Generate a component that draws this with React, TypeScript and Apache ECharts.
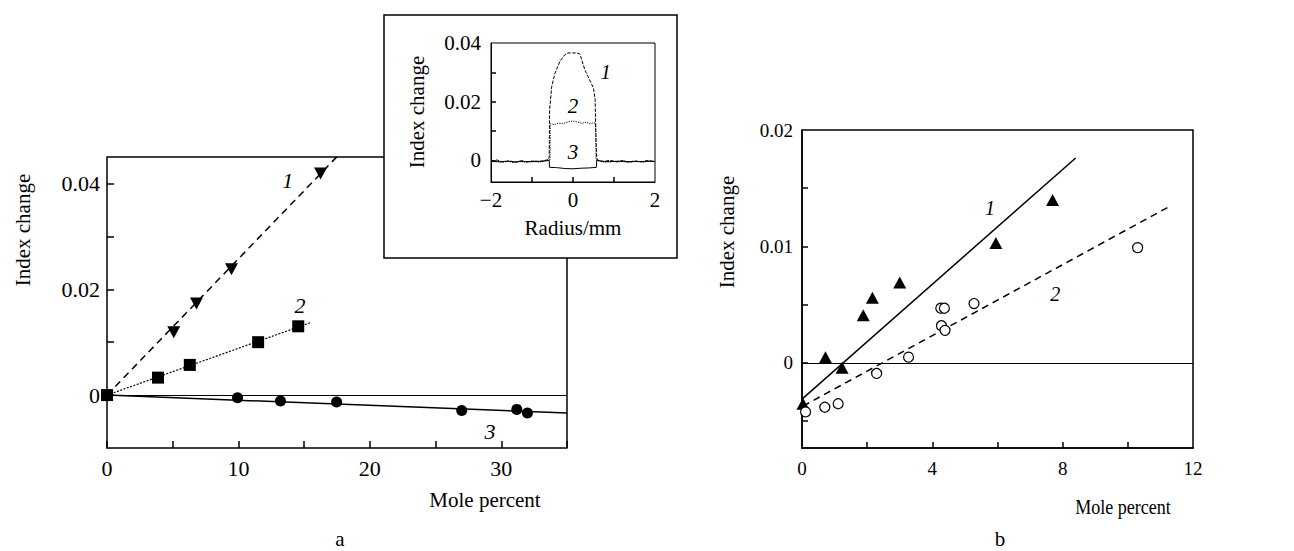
import React, { useEffect, useRef } from "react";
import * as echarts from "echarts";

const W = 1294;
const H = 551;
const SERIF = "Liberation Serif";

// ---------- Panel a (main) ----------
const A_X_TICKS = [0, 5, 10, 15, 20, 25, 30, 35];
const A_X_LABELS = [0, 10, 20, 30];
const A_Y_TICKS = [0, 0.01, 0.02, 0.03, 0.04];
const A_Y_LABELS = [0, 0.02, 0.04];

const A_S1_POINTS = [[5.08, 0.0119], [6.81, 0.0173], [9.47, 0.0238], [16.25, 0.0419]];
const A_S1_LINE = [[0, 0], [17.59, 0.0453]];
const A_S2_POINTS = [[0, 0], [3.88, 0.0033], [6.3, 0.0057], [11.5, 0.01], [14.55, 0.013]];
const A_S2_LINE = [[0, 0], [15.49, 0.0137]];
const A_S3_POINTS = [[9.93, -0.0005], [13.2, -0.0011], [17.47, -0.0013], [26.99, -0.0029], [31.18, -0.0027], [31.99, -0.0034]];
const A_S3_LINE = [[0, 0], [35, -0.0034]];
const A_CURVE_LABELS = [["1", 13.76, 0.0406], ["2", 14.68, 0.0169], ["3", 29.15, -0.0068]];

// ---------- Inset ----------
const IN_X_TICKS = [-1, 0, 1];
const IN_X_LABELS = [-2, 0, 2];
const IN_Y_TICKS = [0, 0.01, 0.02, 0.03];
const IN_Y_LABELS = [0, 0.02, 0.04];

const IN_CURVE1 = [
  [-2, -0.0003], [-1.85, 0.0001], [-1.7, -0.0006], [-1.55, -0.0002], [-1.4, -0.0007], [-1.25, -0.0001],
  [-1.1, -0.0006], [-0.95, -0.0002], [-0.8, -0.0005], [-0.68, 0.0], [-0.6, 0.0002],
  [-0.58, 0.0012], [-0.575, 0.01], [-0.57, 0.0172], [-0.52, 0.0251], [-0.44, 0.0297], [-0.32, 0.0337],
  [-0.2, 0.036], [-0.12, 0.0366], [0.1, 0.0366], [0.17, 0.0362], [0.29, 0.0308], [0.37, 0.0285],
  [0.5, 0.0246], [0.54, 0.0206], [0.555, 0.0093], [0.58, 0.0008], [0.62, -0.0001], [0.75, -0.0004],
  [0.9, 0.0], [1.05, -0.0005], [1.2, -0.0001], [1.35, -0.0006], [1.5, -0.0002], [1.65, -0.0005],
  [1.8, -0.0001], [2, -0.0004],
];
const IN_CURVE2 = [
  [-2, -0.0006], [-1.9, -0.0002], [-1.75, -0.0007], [-1.6, -0.0003], [-1.45, -0.0008], [-1.3, -0.0003],
  [-1.15, -0.0007], [-1.0, -0.0002], [-0.85, -0.0006], [-0.7, -0.0002], [-0.6, 0.0001],
  [-0.56, 0.0002], [-0.555, 0.0124], [-0.45, 0.0122], [-0.35, 0.0127], [-0.25, 0.0125], [-0.12, 0.0131],
  [0, 0.0134], [0.1, 0.0131], [0.22, 0.0126], [0.32, 0.013], [0.42, 0.0124], [0.5, 0.0128],
  [0.555, 0.0126], [0.56, 0.0002], [0.65, -0.0003], [0.8, -0.0007], [0.95, -0.0002], [1.1, -0.0006],
  [1.25, -0.0002], [1.4, -0.0007], [1.55, -0.0003], [1.7, -0.0006], [1.85, -0.0002], [2, -0.0005],
];
const IN_CURVE3 = [
  [-2, -0.0004], [-1.8, -0.0005], [-1.6, -0.0003], [-1.4, -0.0005], [-1.2, -0.0004], [-1.0, -0.0005],
  [-0.8, -0.0003], [-0.65, -0.0002], [-0.58, 0.0],
  [-0.575, -0.0024], [-0.4, -0.0025], [-0.2, -0.0028], [0, -0.0029], [0.2, -0.0027], [0.4, -0.0026],
  [0.57, -0.0024], [0.58, 0.0], [0.7, -0.0003], [0.9, -0.0005], [1.1, -0.0003], [1.3, -0.0005],
  [1.5, -0.0004], [1.7, -0.0005], [1.9, -0.0003], [2, -0.0004],
];
const IN_CURVE_LABELS = [["1", 0.8, 0.0301], ["2", 0.0, 0.0185], ["3", 0.0, 0.0028]];

// ---------- Panel b ----------
const B_X_TICKS = [2, 4, 6, 8, 10];
const B_X_LABELS = [0, 4, 8, 12];
const B_Y_TICKS = [-0.005, 0, 0.005, 0.01, 0.015];
const B_Y_LABELS = [0, 0.01, 0.02];

const B_TRIANGLES = [[0.03, -0.0035], [0.72, 0.0005], [1.23, -0.0004], [1.88, 0.0041], [2.16, 0.0056], [3.0, 0.0069], [5.95, 0.0103], [7.69, 0.014]];
const B_LINE1 = [[0, -0.0031], [8.4, 0.0176]];
const B_CIRCLES = [[0.11, -0.0042], [0.7, -0.0038], [1.11, -0.0035], [2.29, -0.0009], [3.27, 0.0005], [4.26, 0.0047], [4.37, 0.0047], [4.28, 0.0032], [4.39, 0.0028], [5.28, 0.0051], [10.3, 0.0099]];
const B_LINE2 = [[0.03, -0.0037], [11.32, 0.0135]];
const B_CURVE_LABELS = [["1", 5.77, 0.0133], ["2", 7.77, 0.0059]];

// ---------- layout ----------
const GA = { left: 107, top: 157, width: 460, height: 291 };
const GI = { left: 491, top: 43, width: 164, height: 139 };
const GB = { left: 802, top: 130, width: 391, height: 318 };
const INSET_BOX = { x: 384, y: 15, width: 293, height: 243 };

const fmtNum = (v: number) => {
  if (Math.abs(v) < 1e-9) return "0";
  if (Number.isInteger(Math.round(v * 1e6) / 1e6)) return v < 0 ? "\u2212" + Math.abs(v) : String(v);
  const s = Math.abs(v).toFixed(2);
  return v < 0 ? "\u2212" + s : s;
};

function axis(o: any) {
  return {
    type: "value",
    gridIndex: o.grid,
    min: o.min,
    max: o.max,
    axisLine: { show: true, onZero: false, lineStyle: { color: "#000", width: o.lw ?? 1.5 } },
    axisTick: { show: true, inside: true, length: o.tl ?? 7, customValues: o.ticks, lineStyle: { color: "#000", width: 1.5 } },
    axisLabel: {
      show: true,
      customValues: o.labels,
      formatter: (v: number) => fmtNum(v),
      fontFamily: SERIF,
      fontSize: o.fs ?? 21,
      color: "#000",
      margin: o.margin ?? 8,
    },
    splitLine: { show: false },
  };
}

function fitLine(data: number[][], xi: number, yi: number, type: any, width = 1.5) {
  return {
    type: "line",
    xAxisIndex: xi,
    yAxisIndex: yi,
    data,
    showSymbol: false,
    symbol: "none",
    silent: true,
    lineStyle: { color: "#000", width, type, opacity: 1 },
    z: 3,
  };
}

function points(data: number[][], xi: number, yi: number, symbol: string, size: any, filled = true, rotate = 0) {
  return {
    type: "scatter",
    xAxisIndex: xi,
    yAxisIndex: yi,
    data,
    symbol,
    symbolSize: size,
    symbolRotate: rotate,
    silent: true,
    itemStyle: filled
      ? { color: "#000", opacity: 1 }
      : { color: "#fff", borderColor: "#000", borderWidth: 1.2, opacity: 1 },
    z: 4,
  };
}

function labels(list: any[], xi: number, yi: number, fs = 21) {
  return {
    type: "scatter",
    xAxisIndex: xi,
    yAxisIndex: yi,
    data: list.map((l) => [l[1], l[2], l[0]]),
    symbolSize: 0,
    silent: true,
    itemStyle: { opacity: 1, color: "#000" },
    label: {
      show: true,
      position: "inside",
      formatter: (p: any) => p.value[2],
      fontFamily: SERIF,
      fontStyle: "italic",
      fontSize: fs,
      color: "#000",
      opacity: 1,
      textBorderWidth: 0,
    },
    z: 5,
  };
}

function text(t: string, x: number, y: number, fs: number, rot = 0, scaleX = 1) {
  return {
    type: "text",
    x,
    y,
    rotation: rot,
    scaleX,
    silent: true,
    style: { text: t, fontFamily: SERIF, fontSize: fs, fill: "#000", align: "center", verticalAlign: "middle" },
  };
}

const option: any = {
  animation: false,
  backgroundColor: "#fff",
  textStyle: { fontFamily: SERIF },
  grid: [
    { ...GA, show: false },
    { ...GI, show: true, borderColor: "#000", borderWidth: 1, backgroundColor: "transparent" },
    { ...GB, show: true, borderColor: "#000", borderWidth: 1.5, backgroundColor: "transparent" },
  ],
  xAxis: [
    axis({ grid: 0, min: 0, max: 35, ticks: A_X_TICKS, labels: A_X_LABELS, fs: 22, margin: 9 }),
    axis({ grid: 1, min: -2, max: 2, ticks: IN_X_TICKS, labels: IN_X_LABELS, fs: 21, tl: 5, lw: 1, margin: 7 }),
    axis({ grid: 2, min: 0, max: 12, ticks: B_X_TICKS, labels: B_X_LABELS, fs: 19, tl: 6, margin: 11 }),
  ],
  yAxis: [
    axis({ grid: 0, min: -0.01, max: 0.045, ticks: A_Y_TICKS, labels: A_Y_LABELS, fs: 22, margin: 7 }),
    axis({ grid: 1, min: -0.0074, max: 0.04, ticks: IN_Y_TICKS, labels: IN_Y_LABELS, fs: 21, tl: 5, lw: 1, margin: 10 }),
    axis({ grid: 2, min: -0.0073, max: 0.02, ticks: B_Y_TICKS, labels: B_Y_LABELS, fs: 19, tl: 6, margin: 9 }),
  ],
  series: [
    // zero lines
    {
      type: "line", xAxisIndex: 0, yAxisIndex: 0, data: [], silent: true,
      markLine: { silent: true, symbol: "none", label: { show: false }, lineStyle: { color: "#000", width: 1, type: "solid", opacity: 1 }, data: [{ yAxis: 0 }] },
    },
    {
      type: "line", xAxisIndex: 2, yAxisIndex: 2, data: [], silent: true,
      markLine: { silent: true, symbol: "none", label: { show: false }, lineStyle: { color: "#000", width: 1, type: "solid", opacity: 1 }, data: [{ yAxis: 0 }] },
    },
    // panel a
    fitLine(A_S1_LINE, 0, 0, [7, 5], 1.5),
    fitLine(A_S2_LINE, 0, 0, [2, 1.5], 1.2),
    fitLine(A_S3_LINE, 0, 0, "solid", 1.5),
    points(A_S1_POINTS, 0, 0, "triangle", [13, 12], true, 180),
    points(A_S2_POINTS, 0, 0, "rect", 12),
    points(A_S3_POINTS, 0, 0, "circle", 11),
    labels(A_CURVE_LABELS, 0, 0, 22),
    // inset
    fitLine(IN_CURVE3, 1, 1, "solid", 1),
    fitLine(IN_CURVE2, 1, 1, [1.2, 1.2], 1),
    fitLine(IN_CURVE1, 1, 1, [3.5, 1.5], 1),
    labels(IN_CURVE_LABELS, 1, 1, 21),
    // panel b
    fitLine(B_LINE1, 2, 2, "solid", 1.5),
    fitLine(B_LINE2, 2, 2, [7, 5], 1.5),
    points(B_TRIANGLES, 2, 2, "triangle", [13, 12]),
    points(B_CIRCLES, 2, 2, "circle", 10, false),
    labels(B_CURVE_LABELS, 2, 2, 20),
  ],
  graphic: [
    // main frame (top and right edges, broken by the inset)
    { type: "line", silent: true, shape: { x1: GA.left, y1: GA.top, x2: INSET_BOX.x, y2: GA.top }, style: { stroke: "#000", lineWidth: 1.5 } },
    { type: "line", silent: true, shape: { x1: GA.left + GA.width, y1: INSET_BOX.y + INSET_BOX.height, x2: GA.left + GA.width, y2: GA.top + GA.height }, style: { stroke: "#000", lineWidth: 1.5 } },
    { type: "rect", silent: true, shape: { ...INSET_BOX }, style: { fill: "none", stroke: "#000", lineWidth: 1.5 } },
    text("Index change", 23, 230, 21, Math.PI / 2),
    text("Mole percent", 485, 500, 21),
    text("a", 340, 539, 21),
    text("Index change", 417, 112, 21, Math.PI / 2),
    text("Radius/mm", 573, 228, 21),
    text("Index change", 727, 232, 21, Math.PI / 2),
    text("Mole percent", 1123, 507, 21, 0, 0.86),
    text("b", 1000, 539, 21),
  ],
};

export default function App() {
  const ref = useRef<HTMLDivElement>(null);
  useEffect(() => {
    const chart = echarts.init(ref.current!, null, { renderer: "svg", width: W, height: H });
    chart.setOption(option);
    return () => chart.dispose();
  }, []);
  return (
    <div
      ref={ref}
      style={{ position: "absolute", left: 0, top: 0, width: W, height: H, background: "#fff" }}
    />
  );
}
